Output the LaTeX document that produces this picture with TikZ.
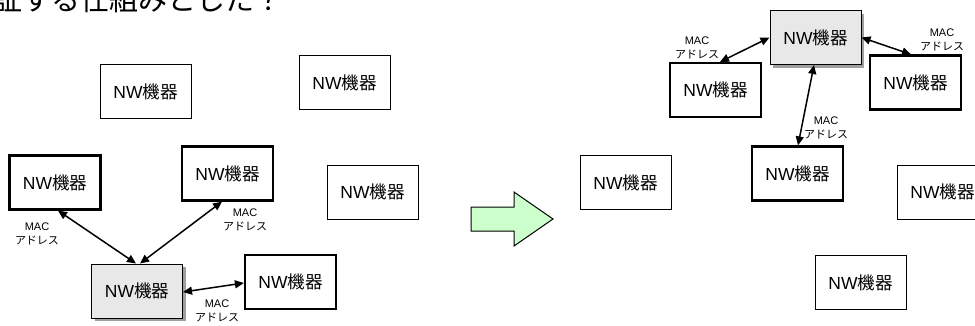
\documentclass[tikz,border=0pt]{standalone}
\usepackage{fontspec}
\setmainfont{Noto Sans CJK JP}
\newfontfamily\lat{Liberation Sans}
\usetikzlibrary{arrows.meta,shadows}
\newcommand{\nwtext}{{\lat NW}機器}
\newcommand{\mactext}{{\lat MAC}\\アドレス}
\tikzset{
  dev/.style={draw=black, fill=white, line width=1pt, minimum width=91pt, minimum height=54pt, inner sep=0pt, font=\fontsize{17.5}{20}\selectfont},
  devb/.style={dev, line width=2.2pt},
  devg/.style={dev, line width=1pt, fill=gray!18, drop shadow={shadow xshift=3pt, shadow yshift=-3pt, fill=gray!75, opacity=1}},
  link/.style={line width=1.5pt, {Triangle[length=9pt,width=8pt]}-{Triangle[length=9pt,width=8pt]}},
  lbl/.style={align=center, inner sep=0pt, font=\fontsize{11}{13.5}\selectfont},
  bigarrow/.style={draw=black, line width=1pt, fill=green!20!white, line join=miter}
}
\begin{document}
\begin{tikzpicture}[x=1pt,y=-1pt]
\useasboundingbox (0,0) rectangle (975,325);
\clip (0,0) rectangle (975,325);
% cut-off title text
\node[anchor=base west, inner sep=0pt, font=\fontsize{29}{32}\selectfont] (title) at (-7,10) {証する仕組みとした？};
% left group
\node[dev]  (A) at (145.5,91.5) {\nwtext};
\node[dev]  (B) at (344.5,82.5) {\nwtext};
\node[devb] (C) at (55,182.5) {\nwtext};
\node[devb] (D) at (227.5,173.5) {\nwtext};
\node[dev]  (E) at (372.5,192) {\nwtext};
\node[devg] (F) at (137,291) {\nwtext};
\node[devb] (G) at (290.5,282) {\nwtext};
\draw[link] ([xshift=3pt]C.south) -- ([xshift=-1pt]F.north);
\draw[link] ([xshift=-5.5pt]D.south) -- ([xshift=3pt]F.north);
\draw[link] ([yshift=-1pt]F.east) -- ([yshift=-1pt]G.west);
\node[lbl] (l1) at (37,234) {\mactext};
\node[lbl] (l2) at (245,220) {\mactext};
\node[lbl] (l3) at (217,311) {\mactext};
% big arrow
\draw[bigarrow] (471,207) -- (514,207) -- (514,192) -- (553,219) -- (514,246) -- (514,231) -- (471,231) -- cycle;
% right group
\node[devg] (H) at (815.5,37.5) {\nwtext};
\node[devb] (I) at (715.5,90) {\nwtext};
\node[devb] (J) at (915.5,82.5) {\nwtext};
\node[devb] (K) at (797.5,173.5) {\nwtext};
\node[dev]  (L) at (625.5,182.5) {\nwtext};
\node[dev]  (M) at (942.5,192) {\nwtext};
\node[dev]  (N) at (860.5,282.5) {\nwtext};
\draw[link] ([xshift=4.5pt]I.north) -- (H.west);
\draw[link] (H.east) -- ([xshift=-4.5pt]J.north);
\draw[link] ([xshift=-1.5pt]H.south) -- ([xshift=0.5pt]K.north);
\node[lbl] (r1) at (697,48) {\mactext};
\node[lbl] (r2) at (942,40) {\mactext};
\node[lbl] (r3) at (826,128) {\mactext};
\end{tikzpicture}
\end{document}
